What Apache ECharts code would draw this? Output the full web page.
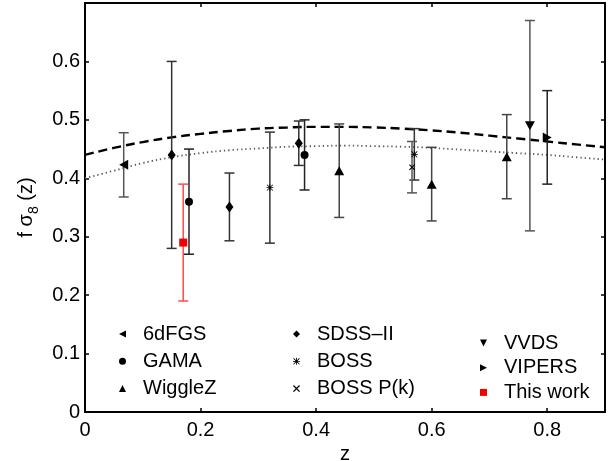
<!DOCTYPE html>
<html><head><meta charset="utf-8">
<script src="https://cdn.jsdelivr.net/npm/echarts@6/dist/echarts.min.js"></script>
<style>html,body{margin:0;padding:0;background:#fff}#c{width:616px;height:461px}</style>
</head><body><div id="c"></div><script>
// ---- data ----
const xTickValues = [0, 0.2, 0.4, 0.6, 0.8];
const xTickLabels = ['0', '0.2', '0.4', '0.6', '0.8'];
const yTickValues = [0, 0.1, 0.2, 0.3, 0.4, 0.5, 0.6];
const yTickLabels = ['0', '0.1', '0.2', '0.3', '0.4', '0.5', '0.6'];

const z6dFGS = [0.067];            const f6dFGS = [0.423];              const e6dFGS = [0.055];
const zGAMA = [0.18, 0.38];        const fGAMA = [0.36, 0.44];          const eGAMA = [0.09, 0.06];
const zWiggleZ = [0.44, 0.60, 0.73]; const fWiggleZ = [0.413, 0.390, 0.437]; const eWiggleZ = [0.080, 0.063, 0.072];
const zSDSS = [0.15, 0.25, 0.37];  const fSDSS = [0.44, 0.351, 0.46];   const eSDSS = [0.16, 0.058, 0.038];
const zBOSS = [0.32, 0.57];        const fBOSS = [0.384, 0.441];        const eBOSS = [0.095, 0.044];
const zBOSSPk = [0.566];           const fBOSSPk = [0.419];             const eBOSSPk = [0.044];
const zVVDS = [0.77];              const fVVDS = [0.49];                const eVVDS = [0.18];
const zVIPERS = [0.80];            const fVIPERS = [0.47];              const eVIPERS = [0.08];
const zThis = [0.17];              const fThis = [0.29];                const eThis = [0.10];

const zModel = [0, 0.05, 0.1, 0.15, 0.2, 0.25, 0.3, 0.35, 0.4, 0.45, 0.5, 0.55, 0.6, 0.65, 0.7, 0.75, 0.8, 0.85, 0.9];
const fDashed = [0.440, 0.452, 0.462, 0.470, 0.476, 0.481, 0.485, 0.487, 0.488, 0.488, 0.487, 0.485, 0.482, 0.478, 0.473, 0.468, 0.463, 0.458, 0.453];
const fDotted = [0.400, 0.413, 0.426, 0.436, 0.443, 0.448, 0.451, 0.454, 0.455, 0.456, 0.455, 0.454, 0.452, 0.449, 0.446, 0.443, 0.440, 0.436, 0.432];

// ---- styling ----
const FONT = 'Liberation Sans, Arial, Helvetica, sans-serif';
const pathAst = 'path://M4.4,0H5.6V10H4.4Z M0,4.4H10V5.6H0Z M1.2,0.4L9.6,8.8L8.8,9.6L0.4,1.2Z M8.8,0.4L9.6,1.2L1.2,9.6L0.4,8.8Z';
const pathX = 'path://M0,1.3L1.3,0L10,8.7L8.7,10Z M8.7,0L10,1.3L1.3,10L0,8.7Z';
const triLeft = 'path://M0,5L10,0L10,10Z';
const triRight = 'path://M0,0L10,5L0,10Z';
const triDown = 'path://M0,0L10,0L5,10Z';

const sets = [
  {name: '6dFGS', z: z6dFGS, f: f6dFGS, e: e6dFGS, symbol: triLeft, size: [9, 10], color: '#000', ecolor: '#555'},
  {name: 'GAMA', z: zGAMA, f: fGAMA, e: eGAMA, symbol: 'circle', size: 8, color: '#000', ecolor: '#222'},
  {name: 'WiggleZ', z: zWiggleZ, f: fWiggleZ, e: eWiggleZ, symbol: 'triangle', size: [10, 9], color: '#000', ecolor: '#444'},
  {name: 'SDSS\u2013II', z: zSDSS, f: fSDSS, e: eSDSS, symbol: 'diamond', size: [8, 11], color: '#000', ecolor: '#333'},
  {name: 'BOSS', z: zBOSS, f: fBOSS, e: eBOSS, symbol: pathAst, size: 7, color: '#000', ecolor: '#333'},
  {name: 'BOSS P(k)', z: zBOSSPk, f: fBOSSPk, e: eBOSSPk, symbol: pathX, size: 6, color: '#000', ecolor: '#555'},
  {name: 'VVDS', z: zVVDS, f: fVVDS, e: eVVDS, symbol: triDown, size: [10, 9], color: '#000', ecolor: '#555'},
  {name: 'VIPERS', z: zVIPERS, f: fVIPERS, e: eVIPERS, symbol: triRight, size: [9, 10], color: '#000', ecolor: '#222'},
  {name: 'This work', z: zThis, f: fThis, e: eThis, symbol: 'rect', size: 8, color: '#f00000', ecolor: '#ff4a4a'}
];

const series = [];
series.push({
  name: 'model dashed', type: 'line', smooth: true, showSymbol: false, silent: true, z: 1,
  data: zModel.map((z, i) => [z, fDashed[i]]),
  lineStyle: {color: '#000', width: 2.4, type: [9, 5]}
});
series.push({
  name: 'model dotted', type: 'line', smooth: true, showSymbol: false, silent: true, z: 1,
  data: zModel.map((z, i) => [z, fDotted[i]]),
  lineStyle: {color: '#555', width: 1.8, type: [1.3, 3]}
});
sets.forEach(s => {
  series.push({
    name: s.name + ' err', type: 'custom', z: 2, silent: true,
    data: s.z.map((z, i) => [z, s.f[i] - s.e[i], s.f[i] + s.e[i]]),
    encode: {x: 0, y: [1, 2]},
    renderItem: (params, api) => {
      const x = api.value(0), lo = api.value(1), hi = api.value(2);
      const a = api.coord([x, lo]), b = api.coord([x, hi]);
      const cw = 5;
      const st = {stroke: s.ecolor, lineWidth: 1.5};
      return {type: 'group', children: [
        {type: 'line', shape: {x1: a[0], y1: a[1], x2: b[0], y2: b[1]}, style: st},
        {type: 'line', shape: {x1: a[0] - cw, y1: a[1], x2: a[0] + cw, y2: a[1]}, style: st},
        {type: 'line', shape: {x1: b[0] - cw, y1: b[1], x2: b[0] + cw, y2: b[1]}, style: st}
      ]};
    }
  });
  series.push({
    name: s.name, type: 'scatter', z: 3,
    data: s.z.map((z, i) => [z, s.f[i]]),
    symbol: s.symbol, symbolSize: s.size,
    itemStyle: {color: s.color, opacity: 1}
  });
});

function fmt(values, labels) {
  return v => {
    for (let i = 0; i < values.length; i++) if (Math.abs(v - values[i]) < 1e-6) return labels[i];
    return '';
  };
}

const legendBase = {
  orient: 'vertical', selectedMode: false, itemWidth: 7, itemHeight: 7, padding: 0,
  textStyle: {fontSize: 20, fontFamily: FONT, color: '#000', padding: [0, 0, 0, 12]}
};

const axisLineStyle = {show: true, onZero: false, lineStyle: {color: '#000', width: 2}};
const tickStyle = {show: true, inside: true, length: 4, lineStyle: {color: '#000', width: 1.5}};

const option = {
  animation: false,
  backgroundColor: '#fff',
  grid: {left: 85, right: 11, top: 3, bottom: 49, containLabel: false, outerBoundsMode: 'none'},
  legend: [
    Object.assign({}, legendBase, {left: 119, top: 324, itemGap: 7.3, data: ['6dFGS', 'GAMA', 'WiggleZ']}),
    Object.assign({}, legendBase, {left: 293, top: 324, itemGap: 7.3, data: ['SDSS\u2013II', 'BOSS', 'BOSS P(k)']}),
    Object.assign({}, legendBase, {left: 480, top: 333, itemGap: 4.7, data: ['VVDS', 'VIPERS', 'This work']})
  ],
  xAxis: [
    {type: 'value', min: 0, max: 0.9, interval: 0.2, position: 'bottom',
     axisLine: axisLineStyle, axisTick: tickStyle, splitLine: {show: false},
     axisLabel: {fontSize: 20, fontFamily: FONT, color: '#000', margin: 8, formatter: fmt(xTickValues, xTickLabels)},
     name: 'z', nameLocation: 'middle', nameGap: 28,
     nameTextStyle: {fontSize: 20, fontFamily: FONT, color: '#000'}},
    {type: 'value', min: 0, max: 0.9, interval: 0.2, position: 'top',
     axisLine: axisLineStyle, axisTick: tickStyle, splitLine: {show: false}, axisLabel: {show: false}}
  ],
  yAxis: [
    {type: 'value', min: 0, max: 0.7, interval: 0.1, position: 'left',
     axisLine: axisLineStyle, axisTick: tickStyle, splitLine: {show: false},
     axisLabel: {fontSize: 20, fontFamily: FONT, color: '#000', margin: 5, formatter: fmt(yTickValues, yTickLabels)},
     name: '{a|f \u03c3}{s|8}{a| (z)}', nameLocation: 'middle', nameGap: 44,
     nameTextStyle: {fontFamily: FONT, color: '#000',
       rich: {a: {fontSize: 20, fontFamily: FONT, color: '#000', lineHeight: 30, verticalAlign: 'middle'},
              s: {fontSize: 14, fontFamily: FONT, color: '#000', verticalAlign: 'bottom', lineHeight: 30}}}},
    {type: 'value', min: 0, max: 0.7, interval: 0.1, position: 'right',
     axisLine: axisLineStyle, axisTick: tickStyle, splitLine: {show: false}, axisLabel: {show: false}}
  ],
  series: series
};

const chart = echarts.init(document.getElementById('c'), null, {renderer: 'canvas'});
chart.setOption(option);
</script></body></html>
